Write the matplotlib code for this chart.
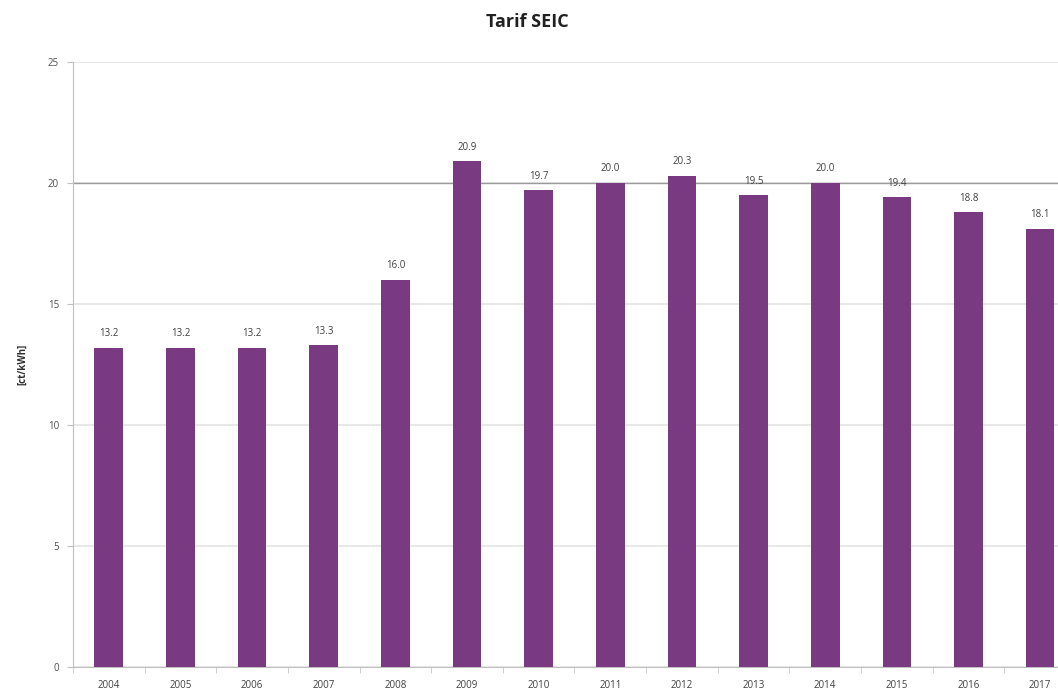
import matplotlib

matplotlib.use("Agg")
import matplotlib.pyplot as plt
import numpy as np

years = ["2004", "2005", "2006", "2007", "2008", "2009", "2010",
         "2011", "2012", "2013", "2014", "2015", "2016", "2017"]
tariff = [13.2, 13.2, 13.2, 13.3, 16.0, 20.9, 19.7,
          20.0, 20.3, 19.5, 20.0, 19.4, 18.8, 18.1]
y_ticks = [0, 5, 10, 15, 20, 25]

bar_color = "#7a3a82"
grid_color = "#e4e4e4"

fig = plt.figure(figsize=(10.58, 6.95), dpi=100)
ax = fig.add_axes([0.069, 0.040, 0.948, 0.871])
ax.set_axisbelow(True)

x = np.arange(len(years))
ax.bar(x, tariff, width=0.4, color=bar_color, zorder=3)
for xi, v in zip(x, tariff):
    ax.text(xi, v + 0.35, f"{v:.1f}", ha="center", va="bottom",
            fontsize=7, color="#404040", family="Open Sans")

ax.set_xlim(-0.5, len(years) - 0.5)
ax.set_ylim(0, 25)
ax.set_yticks(y_ticks)
ax.set_yticklabels([str(t) for t in y_ticks], fontsize=7, color="#505050",
                   family="Open Sans")
ax.set_xticks(x)
ax.set_xticklabels(years, fontsize=7, color="#404040", family="Open Sans")
ax.set_xticks(np.arange(-0.5, len(years), 1), minor=True)
ax.tick_params(axis="x", which="major", length=0, pad=9)
ax.tick_params(axis="x", which="minor", length=4, color="#c8c8c8")
ax.tick_params(axis="y", length=4, color="#c0c0c0", pad=6)

ax.yaxis.grid(True, color=grid_color, linewidth=1.2)
# the 20 line prints darker in the source
ax.axhline(20, color="#9a9a9a", linewidth=1.0, zorder=2)
for side in ("top", "right"):
    ax.spines[side].set_visible(False)
ax.spines["left"].set_color("#c0c0c0")
ax.spines["bottom"].set_color("#c0c0c0")

ax.set_ylabel("[ct/kWh]", fontsize=7, color="#303030", family="Open Sans",
              fontweight="bold", labelpad=14)
fig.text(0.498, 0.968, "Tarif SEIC", ha="center", va="center", fontsize=13,
         fontweight="bold", color="#202020", family="Open Sans")

fig.savefig("out.png", dpi=100)
